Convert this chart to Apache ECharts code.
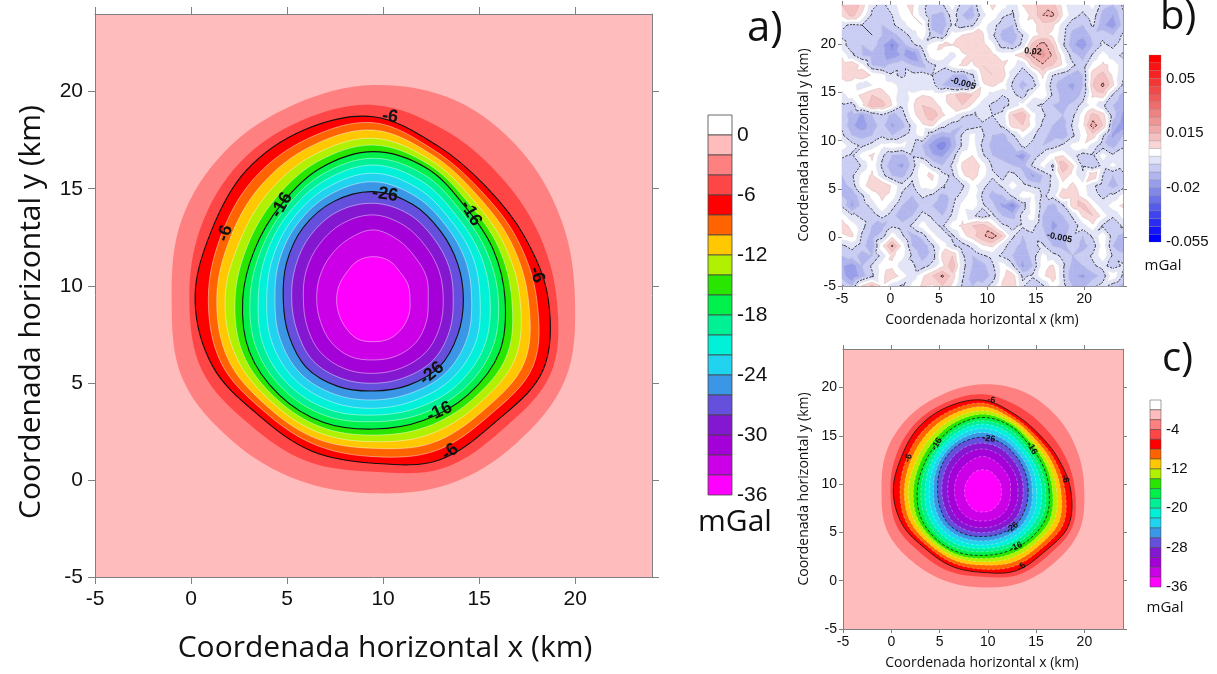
<!DOCTYPE html>
<html>
<head>
<meta charset="utf-8">
<script src="https://cdn.jsdelivr.net/npm/echarts/dist/echarts.min.js"></script>
<style>
  html, body { margin: 0; padding: 0; background: #fff; }
  #chart { width: 1217px; height: 674px; }
</style>
</head>
<body>
<div id="chart"></div>
<script>
// ---- Gravity anomaly of the modelled body (mGal) ----
// Closed contours, given as radial distance (km) from the anomaly centre
// along fixed bearings (degrees, counter-clockwise from east).
const anomalyCentre = [9.5, 9.3];
const bearingsDeg = [0, 22.5, 45, 67.5, 90, 112.5, 135, 157.5, 180, 202.5, 225, 247.5, 270, 292.5, 315, 337.5];
const contourLevels = [-2, -4, -6, -8, -10, -12, -14, -16, -18, -20, -22, -24, -26, -28, -30, -32, -34];
const contourRadii = [
  [10.49, 10.60, 10.85, 11.10, 11.04, 10.85, 10.86, 10.80, 10.51, 10.75, 10.35, 10.10, 9.99, 10.30, 10.50, 10.80],
  [9.54, 9.24, 9.16, 9.48, 10.01, 9.94, 9.90, 9.73, 9.59, 9.65, 9.12, 9.03, 8.88, 9.42, 9.49, 9.99],
  [9.10, 8.50, 8.25, 8.60, 9.41, 9.45, 9.38, 9.15, 9.29, 9.05, 8.45, 8.45, 8.44, 8.95, 8.95, 9.55],
  [8.50, 8.10, 7.91, 8.30, 9.10, 8.96, 8.80, 8.59, 8.60, 8.58, 8.11, 8.08, 8.10, 8.44, 8.49, 8.99],
  [8.06, 7.74, 7.61, 8.04, 8.72, 8.53, 8.29, 8.10, 8.16, 8.17, 7.81, 7.76, 7.67, 8.00, 8.09, 8.50],
  [7.63, 7.37, 7.29, 7.77, 8.30, 8.07, 7.76, 7.58, 7.73, 7.74, 7.49, 7.43, 7.33, 7.54, 7.67, 7.98],
  [7.20, 7.04, 7.01, 7.52, 7.95, 7.67, 7.28, 7.12, 7.21, 7.35, 7.20, 7.12, 6.99, 7.12, 7.29, 7.52],
  [6.85, 6.74, 6.75, 7.30, 7.61, 7.30, 6.85, 6.70, 6.81, 7.00, 6.95, 6.85, 6.68, 6.75, 6.95, 7.10],
  [6.50, 6.38, 6.43, 6.94, 7.27, 6.97, 6.55, 6.38, 6.43, 6.60, 6.59, 6.49, 6.30, 6.40, 6.58, 6.68],
  [6.07, 6.02, 6.10, 6.58, 6.92, 6.63, 6.26, 6.05, 6.00, 6.20, 6.23, 6.13, 5.96, 6.04, 6.20, 6.25],
  [5.55, 5.61, 5.72, 6.16, 6.50, 6.25, 5.91, 5.67, 5.56, 5.73, 5.81, 5.71, 5.61, 5.63, 5.77, 5.76],
  [5.11, 5.19, 5.35, 5.74, 6.06, 5.86, 5.56, 5.30, 5.13, 5.27, 5.39, 5.29, 5.18, 5.21, 5.34, 5.27],
  [4.68, 4.75, 4.95, 5.30, 5.55, 5.45, 5.20, 4.90, 4.70, 4.78, 4.95, 4.85, 4.72, 4.78, 4.88, 4.75],
  [4.15, 4.27, 4.44, 4.76, 4.95, 4.89, 4.65, 4.40, 4.26, 4.30, 4.46, 4.40, 4.32, 4.34, 4.41, 4.28],
  [3.63, 3.71, 3.85, 4.13, 4.35, 4.23, 4.00, 3.80, 3.65, 3.73, 3.88, 3.87, 3.81, 3.82, 3.85, 3.73],
  [2.85, 2.99, 3.07, 3.32, 3.58, 3.37, 3.17, 3.03, 2.96, 2.99, 3.12, 3.18, 3.12, 3.15, 3.13, 2.98],
  [1.90, 1.95, 1.97, 2.15, 2.20, 2.15, 1.97, 1.93, 1.92, 1.95, 2.05, 2.20, 2.18, 2.19, 2.10, 2.00]
];
// Labelled contours: [x km, y km, text, tilt in degrees]
const contourLabels = [
  [10.36, 18.71, '-6', -8], [1.77, 12.70, '-6', 72], [18.0, 10.56, '-6', -72], [13.48, 1.45, '-6', 38],
  [4.72, 14.16, '-16', 60], [14.56, 13.73, '-16', -60], [12.93, 3.51, '-16', 25],
  [10.1, 14.71, '-26', -8], [12.53, 5.49, '-26', 40]
];
const boldLevels = [-6, -16, -26];

// Colour scale of the anomaly (upper edge of each 2 mGal band, top to bottom)
const bandTops = [2, 0, -2, -4, -6, -8, -10, -12, -14, -16, -18, -20, -22, -24, -26, -28, -30, -32, -34];
const bandColors = ['#ffffff', '#ffbcbc', '#ff8080', '#ff4646', '#ff0000', '#ff6400', '#ffc800', '#b0f000',
  '#28e600', '#00f04c', '#00f096', '#00f0d8', '#20d4f0', '#3c96e6', '#6450dc', '#8418d0', '#a400d8', '#cc00e6', '#ff00ff'];

// ---- Residual (noise) field, grid nodes, values in 0.001 mGal ----
const noiseX = [-5, -3.96, -2.93, -1.89, -0.86, 0.18, 1.21, 2.25, 3.29, 4.32, 5.36, 6.39, 7.43, 8.46, 9.5,
  10.54, 11.57, 12.61, 13.64, 14.68, 15.71, 16.75, 17.79, 18.82, 19.86, 20.89, 21.93, 22.96, 24];
const noiseY = [24, 22.96, 21.93, 20.89, 19.86, 18.82, 17.79, 16.75, 15.71, 14.68, 13.64, 12.61, 11.57, 10.54, 9.5,
  8.46, 7.43, 6.39, 5.36, 4.32, 3.29, 2.25, 1.21, 0.18, -0.86, -1.89, -2.93, -3.96, -5];
const noiseRows = [
  [10, 15, 8, -4, -6, -3, 4, 6, -3, -8, -6, 3, -8, -10, 2, 6, 3, -4, 5, 8, 14, 12, 3, -5, -3, 2, -8, -10, -4],
  [6, 12, 4, -6, -8, -5, 2, 5, -2, -10, -12, -2, -10, -12, -2, 4, -4, -6, 3, 6, 15, 16, 5, -3, -6, -2, -12, -15, -6],
  [-4, -6, -5, -8, -10, -6, -2, 3, 5, -12, -14, -4, -8, -6, 3, -3, -8, -10, 4, 3, 8, 6, -2, -8, -10, -4, -14, -18, -8],
  [-6, -8, -6, -5, -10, -12, -8, -3, 4, -8, -10, 3, 5, 8, 6, -4, -12, -14, -5, 3, 6, 4, -3, -12, -14, -8, -6, -10, -4],
  [-3, -8, -10, -6, -14, -22, -12, -6, -3, 3, 6, 5, 8, 10, 7, 2, -8, -10, -3, 12, 18, 10, -4, -14, -18, -10, -4, -6, -2],
  [4, -4, -10, -12, -14, -18, -14, -20, -8, 4, 3, -2, 4, 6, 8, 6, 3, 4, 8, 16, 22, 14, 2, -8, -12, -4, 3, -3, -6],
  [8, 10, 2, -10, -12, -8, -6, -10, -12, -6, -3, 3, 6, 4, 10, 8, 6, 2, -4, 8, 14, 10, 4, -4, -8, 2, 6, 4, -3],
  [6, 8, 10, 4, 2, -4, -6, -3, -2, -5, -8, -10, -12, -6, 6, 10, 8, -3, -8, -4, 6, -5, -8, -12, -10, 8, 12, 4, -4],
  [3, 2, -3, 0, 3, 2, -2, -5, -4, -3, -10, -14, -16, -10, 4, 6, 3, -6, -12, -8, 3, -8, -14, -16, -10, 10, 16, 6, -6],
  [-2, 3, 6, 10, 8, 3, -3, 2, 5, 4, 3, 8, 14, 10, 3, -2, -5, -3, -8, 2, 5, -6, -12, -14, -8, 6, 8, -6, -12],
  [-6, -8, 4, 14, 12, 5, -4, 4, 10, 8, 3, 6, 10, 4, -3, -6, -8, -3, 2, -4, -6, -10, -12, -8, -3, 2, -4, -10, -14],
  [-8, -12, -16, -10, -6, -12, -8, 3, 8, 14, 6, 2, -4, -6, -3, -5, -3, 10, 14, 2, -4, -8, -10, -6, 3, 12, 8, -8, -16],
  [-6, -14, -18, -12, -8, -16, -12, -3, 4, 6, -3, -8, -10, -8, -6, -8, -4, 8, 10, 3, -6, -10, -12, -4, 4, 18, 10, -12, -18],
  [-4, -10, -12, -10, -6, -10, -6, -2, 2, -10, -14, -12, -4, 2, -4, -10, -12, -6, 2, -4, -8, -12, -14, -6, 2, 8, -4, -16, -10],
  [3, -3, -6, -3, 2, 4, 2, -4, -10, -18, -24, -14, -4, 3, -6, -12, -14, -10, -4, -6, -10, -8, -4, 2, 4, -2, -8, -12, -6],
  [-4, -6, 3, 6, -4, -10, -12, -6, -8, -14, -16, -8, 3, 5, -4, -10, -12, -14, -18, -8, -3, 3, 5, -3, -8, -6, 3, -4, -2],
  [-8, -10, -4, 4, -6, -14, -16, -8, 3, -6, -10, -4, 6, 10, 3, -6, -8, -10, -12, -4, 2, -6, 14, 6, -6, -10, -3, 2, -3],
  [-10, -6, 2, 6, -3, -10, -12, -4, 4, 6, -3, -6, 4, 8, 2, -4, -6, -3, -8, -16, -10, -4, 8, 3, -4, 10, -5, -10, -6],
  [-12, -8, 3, 8, 10, 4, -3, -6, 2, 4, -4, -10, -6, 2, -3, -8, -4, 3, -3, -6, -8, -4, 3, 6, 2, -4, -8, -12, -8],
  [-10, -14, -6, 2, 6, 3, -6, -10, -4, -6, -12, -8, -3, 4, -6, -12, -10, -4, 3, 2, -6, -3, 10, 8, 3, -3, -6, -4, 2],
  [-6, -16, -8, -3, 4, -3, -10, -14, -8, -10, -14, -6, 2, 4, -4, -8, -16, -22, -8, 4, -8, -12, -6, 8, 12, 4, -3, 3, 6],
  [3, -4, -6, -8, -3, -8, -14, -10, -3, -6, -10, -4, 4, -4, -8, -4, -10, -12, -3, 3, -10, -14, -10, -4, 6, 10, 3, -4, 2],
  [8, 3, -3, -10, -12, -6, -8, -4, 3, -3, -6, 3, 6, 10, 12, 6, -4, -6, -4, -3, -10, -16, -14, -8, -2, 4, -6, -10, -4],
  [4, 6, -6, -12, -8, 3, -4, -12, -8, 2, -3, -6, 3, 8, 14, 18, 10, -4, -10, -6, -8, -14, -12, -6, -10, -4, 4, -8, -12],
  [-6, -3, -8, -14, 4, 16, 3, -10, -14, -6, 3, -4, -8, -3, 4, 6, -3, -8, -12, -6, -4, -10, -12, -6, -12, -8, 3, -10, -14],
  [-10, -8, -12, -10, -3, 6, 2, -6, -12, -8, 6, 10, -4, -10, -6, -3, -6, -10, -14, -8, 2, -3, -6, -10, -8, -4, 4, -6, -8],
  [-14, -18, -10, -4, 3, 4, -3, -4, -8, -3, 4, 14, -3, -10, -12, -6, 3, -4, -16, -10, 3, 6, -4, -12, -10, -6, -3, -8, -4],
  [-12, -20, -12, -6, 4, 8, 3, -3, 4, 10, 16, 8, -4, -12, -14, -8, 4, 8, -6, -4, 4, 8, -4, -14, -16, -12, -8, 4, -6],
  [-4, -10, 6, 12, 4, -3, -6, 2, 6, 4, 10, 4, -6, -10, -8, -3, 6, 10, -4, -10, -6, 3, -3, -10, -12, -6, -3, -8, -12]
];
// Labelled residual contours: [x km, y km, text, tilt in degrees]
const noiseLabels = [[14.7, 19.2, '0.02', -5], [7.5, 15.9, '-0.005', -15], [17.45, 0.0, '-0.005', -12]];
const noiseDashedLevels = [-0.005, 0.015];
// Colour scale of the residual map: 0.005 mGal bands from -0.055 to 0.065
const noiseBandLow = -0.055, noiseBandStep = 0.005;
const noiseBandColors = ['#0000ff', '#1414f8', '#2a2cf2', '#4044ee', '#565cea', '#6c72e8', '#8288e6', '#989eea',
  '#b0b5ee', '#cacdf3', '#e2e4f8', '#ffffff', '#f9d6d6', '#f5c0c0', '#f1aaaa', '#ee9696', '#ed8282', '#ee6e6e',
  '#f05a5a', '#f24848', '#f53636', '#f82424', '#fb1212', '#ff0000'];

// Axis tick values
const mapTicks = [-5, 0, 5, 10, 15, 20];
const barTicksA = [-36, -30, -24, -18, -12, -6, 0];
const barTicksB = [-0.055, -0.02, 0.015, 0.05];
const barTicksC = [-36, -28, -20, -12, -4];

// ------------------------------------------------------------------
const FONT_NUM = '"Liberation Sans", Arial, sans-serif';
const FONT_TXT = '"Open Sans", "Liberation Sans", sans-serif';
const AXIS_GREY = '#808080';

const chart = echarts.init(document.getElementById('chart'), null, { renderer: 'canvas' });

function contourPoints(i) {
  return bearingsDeg.map(function (b, k) {
    const r = contourRadii[i][k], t = b * Math.PI / 180;
    return [anomalyCentre[0] + r * Math.cos(t), anomalyCentre[1] + r * Math.sin(t)];
  });
}
function bandColorBelow(level) {
  return bandColors[bandTops.indexOf(level)];
}

// --- filled bands and isolines of the residual grid (linear on triangles) ---
function clipHalf(poly, c, keepAbove) {
  const out = [];
  for (let i = 0; i < poly.length; i++) {
    const p = poly[i], q = poly[(i + 1) % poly.length];
    const pin = keepAbove ? p[2] >= c : p[2] <= c;
    const qin = keepAbove ? q[2] >= c : q[2] <= c;
    if (pin) out.push(p);
    if (pin !== qin) {
      const t = (c - p[2]) / (q[2] - p[2]);
      out.push([p[0] + t * (q[0] - p[0]), p[1] + t * (q[1] - p[1]), c]);
    }
  }
  return out;
}
function bandIndex(v) {
  const k = Math.floor((v - noiseBandLow) / noiseBandStep + 1e-9);
  return Math.max(0, Math.min(noiseBandColors.length - 1, k));
}
const noiseTriangles = [];
for (let j = 0; j < noiseY.length - 1; j++) {
  for (let i = 0; i < noiseX.length - 1; i++) {
    const n = function (ii, jj) { return [noiseX[ii], noiseY[jj], noiseRows[jj][ii] / 1000]; };
    const a = n(i, j), b = n(i + 1, j), c = n(i + 1, j + 1), d = n(i, j + 1);
    if ((i + j) % 2 === 0) { noiseTriangles.push([a, b, c], [a, c, d]); }
    else { noiseTriangles.push([a, b, d], [b, c, d]); }
  }
}
const noisePolys = [];
noiseTriangles.forEach(function (tri) {
  const vs = tri.map(function (p) { return p[2]; });
  const k0 = bandIndex(Math.min.apply(null, vs)), k1 = bandIndex(Math.max.apply(null, vs));
  for (let k = k0; k <= k1; k++) {
    let poly = tri;
    const lo = noiseBandLow + k * noiseBandStep, hi = lo + noiseBandStep;
    if (k > 0) poly = clipHalf(poly, lo, true);
    if (k < noiseBandColors.length - 1 && poly.length) poly = clipHalf(poly, hi, false);
    if (poly.length >= 3) noisePolys.push({ pts: poly, k: k });
  }
});
// isolines at every band edge; the labelled ones are dashed and dark
const noiseSegments = [];
for (let k = 1; k < noiseBandColors.length; k++) {
  const lv = +(noiseBandLow + k * noiseBandStep).toFixed(3);
  const dark = noiseDashedLevels.indexOf(lv) >= 0;
  noiseTriangles.forEach(function (tri) {
    const cross = [];
    for (let e = 0; e < 3; e++) {
      const p = tri[e], q = tri[(e + 1) % 3];
      const dp = p[2] - lv + 1e-7, dq = q[2] - lv + 1e-7;
      if (dp * dq < 0) {
        const t = dp / (dp - dq);
        cross.push([p[0] + t * (q[0] - p[0]), p[1] + t * (q[1] - p[1])]);
      }
    }
    if (cross.length === 2) noiseSegments.push({ s: cross, dark: dark });
  });
}

function mapAxes(gi, fs, margin, tickLen) {
  const base = {
    gridIndex: gi, type: 'value', min: -5, max: 24, splitLine: { show: false },
    axisLine: { show: true, onZero: false, lineStyle: { color: AXIS_GREY, width: 1 } },
    axisTick: { show: true, inside: false, length: tickLen, customValues: mapTicks, lineStyle: { color: AXIS_GREY } }
  };
  const lab = { show: true, customValues: mapTicks, fontSize: fs, color: '#111', fontFamily: FONT_NUM, margin: margin };
  return {
    x: [Object.assign({}, base, { position: 'bottom', axisLabel: lab }),
        Object.assign({}, base, { position: 'top', axisLabel: { show: false } })],
    y: [Object.assign({}, base, { position: 'left', axisLabel: lab }),
        Object.assign({}, base, { position: 'right', axisLabel: { show: false } })]
  };
}
function barAxes(gi, min, max, ticks, fs, fmt) {
  return {
    x: { gridIndex: gi, type: 'value', min: 0, max: 1, show: false },
    y: { gridIndex: gi, type: 'value', min: min, max: max, position: 'right', splitLine: { show: false },
         axisLine: { show: false }, axisTick: { show: false },
         axisLabel: { show: true, customValues: ticks, fontSize: fs, color: '#111', fontFamily: FONT_NUM, margin: 5,
                      formatter: fmt } }
  };
}

function contourSeries(axisIdx, lineScale, dashed) {
  return {
    type: 'custom', xAxisIndex: axisIdx, yAxisIndex: axisIdx, clip: true,
    data: contourLevels.map(function (lv) { return [anomalyCentre[0], anomalyCentre[1], lv]; }),
    renderItem: function (params, api) {
      const i = params.dataIndex, lv = contourLevels[i];
      const pts = contourPoints(i).map(function (p) { return api.coord(p); });
      const bold = boldLevels.indexOf(lv) >= 0;
      let stroke = 'rgba(255,255,255,0.55)';
      if (bold) stroke = '#111';
      if (lv > -6) stroke = 'rgba(0,0,0,0)';
      return {
        type: 'polygon',
        shape: { points: pts, smooth: 0.35 },
        style: {
          fill: bandColorBelow(lv), stroke: stroke,
          lineWidth: bold ? 1.1 * lineScale : 0.8 * lineScale,
          lineDash: dashed && lv !== -6 ? [3, 2] : null
        }
      };
    }
  };
}
function labelSeries(axisIdx, fs, labels) {
  return {
    type: 'custom', xAxisIndex: axisIdx, yAxisIndex: axisIdx, clip: true, z: 5,
    data: labels.map(function (d) { return [d[0], d[1]]; }),
    renderItem: function (params, api) {
      const d = labels[params.dataIndex];
      const p = api.coord([d[0], d[1]]);
      return {
        type: 'text', x: p[0], y: p[1], rotation: d[3] * Math.PI / 180,
        style: { text: d[2], fill: '#111', font: 'bold ' + fs + 'px ' + FONT_NUM, align: 'center', verticalAlign: 'middle' }
      };
    }
  };
}
function anomalyBarSeries(axisIdx, sepWidth) {
  return {
    type: 'custom', xAxisIndex: axisIdx, yAxisIndex: axisIdx,
    data: bandTops.map(function (t) { return [0.5, t - 1]; }),
    renderItem: function (params, api) {
      const t = bandTops[params.dataIndex];
      const a = api.coord([0, t]), b = api.coord([1, t - 2]);
      return { type: 'rect', shape: { x: a[0], y: a[1], width: b[0] - a[0], height: b[1] - a[1] },
               style: { fill: bandColors[params.dataIndex], stroke: '#444', lineWidth: sepWidth } };
    }
  };
}

const A = mapAxes(0, 21, 12, 7), B = mapAxes(2, 14, 6, 4), C = mapAxes(4, 14, 6, 4);
const Abar = barAxes(1, -36, 2, barTicksA, 21, function (v) { return String(v); });
const Bbar = barAxes(3, -0.055, 0.065, barTicksB, 15, function (v) { return String(+v.toFixed(3)); });
const Cbar = barAxes(5, -36, 2, barTicksC, 15, function (v) { return String(v); });

function txt(x, y, s, font, rot) {
  return { type: 'text', x: x, y: y, rotation: rot || 0,
           style: { text: s, font: font, fill: '#111', align: 'center', verticalAlign: 'middle' } };
}

const option = {
  backgroundColor: '#ffffff',
  animation: false,
  grid: [
    { left: 95, top: 14, width: 557, height: 563, show: true, backgroundColor: bandColors[1], borderWidth: 0 },
    { left: 708, top: 115, width: 24, height: 380 },
    { left: 842, top: 5, width: 281, height: 281, show: true, backgroundColor: '#ffffff', borderWidth: 0 },
    { left: 1149, top: 55, width: 12, height: 187 },
    { left: 843, top: 349, width: 280, height: 280, show: true, backgroundColor: bandColors[1], borderWidth: 0 },
    { left: 1150, top: 400, width: 11, height: 187 }
  ],
  xAxis: [A.x[0], A.x[1], Abar.x, B.x[0], B.x[1], Bbar.x, C.x[0], C.x[1], Cbar.x],
  yAxis: [A.y[0], A.y[1], Abar.y, B.y[0], B.y[1], Bbar.y, C.y[0], C.y[1], Cbar.y],
  series: [
    contourSeries(0, 1, false),
    labelSeries(0, 18, contourLabels),
    anomalyBarSeries(2, 0.8),
    {
      type: 'custom', xAxisIndex: 3, yAxisIndex: 3, clip: true,
      data: noisePolys.map(function (p) { return [p.pts[0][0], p.pts[0][1]]; }),
      renderItem: function (params, api) {
        const poly = noisePolys[params.dataIndex];
        const col = noiseBandColors[poly.k];
        return { type: 'polygon', shape: { points: poly.pts.map(function (p) { return api.coord([p[0], p[1]]); }) },
                 style: { fill: col, stroke: col, lineWidth: 0.6 } };
      }
    },
    {
      type: 'custom', xAxisIndex: 3, yAxisIndex: 3, clip: true, z: 3,
      data: noiseSegments.map(function (g) { return [g.s[0][0], g.s[0][1]]; }),
      renderItem: function (params, api) {
        const g = noiseSegments[params.dataIndex];
        const a = api.coord(g.s[0]), b = api.coord(g.s[1]);
        return { type: 'line', shape: { x1: a[0], y1: a[1], x2: b[0], y2: b[1] },
                 style: g.dark ? { stroke: '#111', lineWidth: 0.8, lineDash: [2, 1.5] }
                               : { stroke: 'rgba(150,150,150,0.35)', lineWidth: 0.5 } };
      }
    },
    labelSeries(3, 9, noiseLabels),
    {
      type: 'custom', xAxisIndex: 5, yAxisIndex: 5,
      data: noiseBandColors.map(function (c, k) { return [0.5, noiseBandLow + (k + 0.5) * noiseBandStep]; }),
      renderItem: function (params, api) {
        const k = params.dataIndex;
        const lo = noiseBandLow + k * noiseBandStep;
        const a = api.coord([0, lo + noiseBandStep]), b = api.coord([1, lo]);
        return { type: 'rect', shape: { x: a[0], y: a[1], width: b[0] - a[0], height: b[1] - a[1] },
                 style: { fill: noiseBandColors[k], stroke: 'rgba(120,120,120,0.5)', lineWidth: 0.5 } };
      }
    },
    contourSeries(6, 0.7, true),
    labelSeries(6, 9, contourLabels),
    anomalyBarSeries(8, 0.5)
  ],
  graphic: [
    { type: 'text', left: 747, top: 8, style: { text: 'a)', font: '42px ' + FONT_TXT, fill: '#111' } },
    { type: 'text', left: 1160, top: -2, style: { text: 'b)', font: '40px ' + FONT_TXT, fill: '#111' } },
    { type: 'text', left: 1162, top: 340, style: { text: 'c)', font: '40px ' + FONT_TXT, fill: '#111' } },
    txt(735, 522, 'mGal', '30px ' + FONT_TXT),
    txt(1163, 266, 'mGal', '15px ' + FONT_TXT),
    txt(1165, 608, 'mGal', '15px ' + FONT_TXT),
    txt(385, 648, 'Coordenada horizontal x (km)', '30px ' + FONT_TXT),
    txt(31, 312, 'Coordenada horizontal y (km)', '30px ' + FONT_TXT, Math.PI / 2),
    txt(982, 320, 'Coordenada horizontal x (km)', '14px ' + FONT_TXT),
    txt(804, 145, 'Coordenada horizontal y (km)', '14px ' + FONT_TXT, Math.PI / 2),
    txt(982, 663, 'Coordenada horizontal x (km)', '14px ' + FONT_TXT),
    txt(804, 489, 'Coordenada horizontal y (km)', '14px ' + FONT_TXT, Math.PI / 2)
  ]
};
chart.setOption(option);
</script>
</body>
</html>
